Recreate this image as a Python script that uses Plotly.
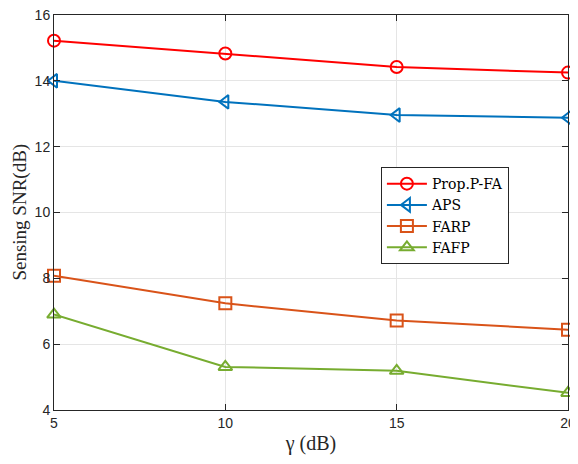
import plotly.graph_objects as go

gamma_db = [5, 10, 15, 20]
prop_pfa = [15.22, 14.83, 14.42, 14.25]
aps = [14.0, 13.36, 12.96, 12.88]
farp = [8.08, 7.24, 6.72, 6.44]
fafp = [6.9, 5.31, 5.19, 4.52]

series = [
    ("Prop.P-FA", prop_pfa, "#FF0000", "circle-open"),
    ("APS", aps, "#0072BD", "triangle-left-open"),
    ("FARP", farp, "#D95319", "square-open"),
    ("FAFP", fafp, "#77AC30", "triangle-up-open"),
]

fig = go.Figure()
for name, vals, color, sym in series:
    fig.add_trace(go.Scatter(
        name=name, x=gamma_db, y=vals, mode="lines+markers",
        line=dict(color=color, width=2),
        marker=dict(symbol=sym, size=12, color=color, line=dict(width=2, color=color)),
        cliponaxis=False,
    ))

axis_common = dict(
    showline=True, linecolor="#262626", linewidth=1, mirror="ticks",
    ticks="inside", ticklen=6, tickcolor="#262626",
    showgrid=True, gridcolor="#E5E5E5", gridwidth=1, zeroline=False,
    tickfont=dict(family="Liberation Sans", size=14, color="#262626"),
    ticklabeloverflow="allow",
    automargin=False,
)

fig.update_xaxes(
    range=[5, 20], tickvals=[5, 10, 15, 20],
    title=dict(text="γ (dB)", font=dict(family="Liberation Serif", size=20, color="#262626"), standoff=6),
    **axis_common,
)
fig.update_yaxes(range=[4, 16], tickvals=[4, 6, 8, 10, 12, 14, 16], **axis_common)

# y label placed by hand so it sits left of the tick labels
fig.add_annotation(
    text="Sensing SNR(dB)", textangle=-90, showarrow=False,
    xref="paper", yref="paper", x=-0.068, y=0.5, xanchor="center", yanchor="middle",
    font=dict(family="Liberation Serif", size=19, color="#262626"),
)

# page body adds an 8px offset, so the figure is sized to the remaining area
fig.update_layout(
    width=570, height=456,
    margin=dict(l=46, r=10, t=7, b=54),
    paper_bgcolor="white", plot_bgcolor="white",
    showlegend=True,
    legend=dict(
        x=0.636, y=0.615, xanchor="left", yanchor="top",
        bgcolor="white", bordercolor="#262626", borderwidth=1,
        font=dict(family="DejaVu Serif", size=14, color="black"),
        tracegroupgap=0, itemwidth=40,
    ),
)

fig.write_html("out.html")
